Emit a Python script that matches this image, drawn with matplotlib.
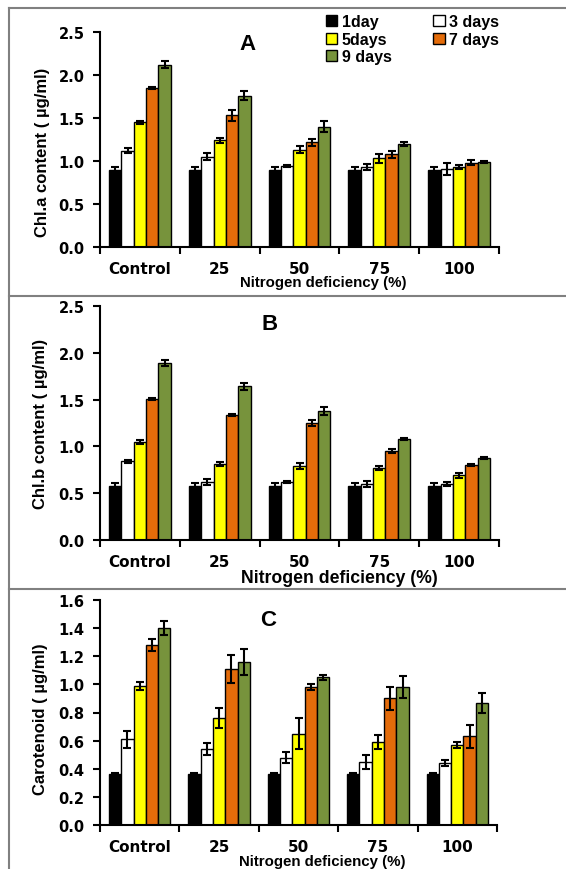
import matplotlib
matplotlib.use('Agg')
import matplotlib.pyplot as plt
from matplotlib.lines import Line2D
import numpy as np

plt.rcParams['font.family'] = ['Liberation Sans', 'DejaVu Sans']
plt.rcParams['font.weight'] = 'bold'

groups = ['Control', '25', '50', '75', '100']
series = ['1day', '3 days', '5days', '7 days', '9 days']
colors = ['#000000', '#ffffff', '#ffff00', '#e46c0a', '#77933c']

# Chl.a
chla = [[0.89, 0.89, 0.89, 0.89, 0.89],
        [1.12, 1.05, 0.94, 0.93, 0.91],
        [1.45, 1.24, 1.13, 1.03, 0.93],
        [1.85, 1.53, 1.22, 1.08, 0.98],
        [2.12, 1.76, 1.40, 1.20, 0.99]]
chla_err = [[0.04, 0.04, 0.04, 0.04, 0.04],
            [0.03, 0.04, 0.01, 0.03, 0.07],
            [0.015, 0.03, 0.04, 0.05, 0.02],
            [0.01, 0.06, 0.04, 0.04, 0.03],
            [0.04, 0.05, 0.06, 0.02, 0.01]]
# Chl.b
chlb = [[0.58, 0.58, 0.58, 0.58, 0.58],
        [0.84, 0.62, 0.62, 0.60, 0.60],
        [1.05, 0.81, 0.79, 0.77, 0.69],
        [1.51, 1.34, 1.25, 0.95, 0.80],
        [1.89, 1.64, 1.38, 1.08, 0.88]]
chlb_err = [[0.03, 0.03, 0.03, 0.03, 0.03],
            [0.02, 0.03, 0.01, 0.03, 0.02],
            [0.02, 0.02, 0.03, 0.02, 0.03],
            [0.01, 0.01, 0.03, 0.02, 0.01],
            [0.03, 0.04, 0.04, 0.01, 0.01]]
# Carotenoid
car = [[0.36, 0.36, 0.36, 0.36, 0.36],
       [0.61, 0.54, 0.48, 0.45, 0.44],
       [0.99, 0.76, 0.65, 0.59, 0.57],
       [1.28, 1.11, 0.98, 0.90, 0.63],
       [1.40, 1.16, 1.05, 0.98, 0.87]]
car_err = [[0.01, 0.01, 0.01, 0.01, 0.01],
           [0.06, 0.04, 0.04, 0.05, 0.02],
           [0.03, 0.07, 0.11, 0.05, 0.02],
           [0.04, 0.10, 0.02, 0.08, 0.08],
           [0.05, 0.09, 0.02, 0.08, 0.07]]

W, H = 566, 870
fig = plt.figure(figsize=(W / 100, H / 100), dpi=100)

# panel frames
gray = '#808080'
for y in [9, 297, 590]:
    fig.add_artist(Line2D([9 / W, 1.01], [1 - y / H, 1 - y / H], color=gray, lw=1.5))
fig.add_artist(Line2D([9 / W, 9 / W], [0, 1 - 9 / H], color=gray, lw=1.5))

tickfont = ['DejaVu Sans']


def panel(rect, vals, errs, ymax, yticks, ylabel, letter, letter_xy, xl_x, xl_size, yl_x, yl_y):
    l, t, r, b = rect
    ax = fig.add_axes([l / W, 1 - b / H, (r - l) / W, (b - t) / H])
    x = np.arange(len(groups))
    bw = 0.155
    for i in range(len(series)):
        ax.bar(x + (i - 2) * bw, vals[i], bw, yerr=errs[i], color=colors[i],
               edgecolor='black', linewidth=1, label=series[i],
               error_kw=dict(ecolor='black', elinewidth=1.5, capsize=3, capthick=1.5))
    ax.set_xlim(-0.5, 4.5)
    ax.set_ylim(0, ymax)
    ax.set_yticks(yticks)
    ax.set_yticklabels(['%.1f' % v for v in yticks], fontsize=10.5, fontweight='bold',
                       family=tickfont)
    ax.set_xticks(x)
    ax.set_xticklabels(groups, fontsize=11, fontweight='bold', family=tickfont)
    ax.set_xticks(np.arange(-0.5, 5, 1), minor=True)
    ax.tick_params(axis='x', which='major', length=0, pad=10)
    ax.tick_params(axis='x', which='minor', length=5, width=1.5)
    ax.tick_params(axis='y', length=5, width=1.5, pad=6)
    for s in ['top', 'right']:
        ax.spines[s].set_visible(False)
    for s in ['left', 'bottom']:
        ax.spines[s].set_linewidth(1.5)
    ax.set_xlabel('Nitrogen deficiency (%)', fontsize=xl_size, fontweight='bold', labelpad=0)
    ax.xaxis.set_label_coords(xl_x, -0.13 if xl_size < 12 else -0.125)
    ax.set_ylabel(ylabel, fontsize=12, fontweight='bold')
    ax.yaxis.set_label_coords(yl_x, yl_y)
    fig.text(letter_xy[0] / W, 1 - letter_xy[1] / H, letter, fontsize=16,
             fontweight='bold', ha='center', va='center')
    return ax


axA = panel((100, 33, 499, 248), chla, chla_err, 2.5, [0, 0.5, 1.0, 1.5, 2.0, 2.5],
            'Chl.a content ( µg/ml)', 'A', (247, 44), 0.56, 10.8, -0.125, 0.444)
panel((100, 307, 499, 541), chlb, chlb_err, 2.5, [0, 0.5, 1.0, 1.5, 2.0, 2.5],
      'Chl.b content ( µg/ml)', 'B', (270, 325), 0.60, 12.7, -0.13, 0.5)
panel((100, 601, 497, 826), car, car_err, 1.6, [0, 0.2, 0.4, 0.6, 0.8, 1.0, 1.2, 1.4, 1.6],
      'Carotenoid ( µg/ml)', 'C', (268, 621), 0.56, 10.8, -0.13, 0.475)

# legend filled row by row like the original
h, lab = axA.get_legend_handles_labels()
order = [0, 2, 4, 1, 3]
fig.legend([h[i] for i in order], [lab[i] for i in order], ncol=2, loc='upper left',
           bbox_to_anchor=(326 / W, 1 - 15 / H),
           frameon=False, prop=dict(weight='bold', size=11.5),
           handlelength=0.7, handleheight=0.7, handletextpad=0.3,
           labelspacing=0.17, columnspacing=2.6, borderpad=0, borderaxespad=0)

fig.savefig('out.png', dpi=100)
